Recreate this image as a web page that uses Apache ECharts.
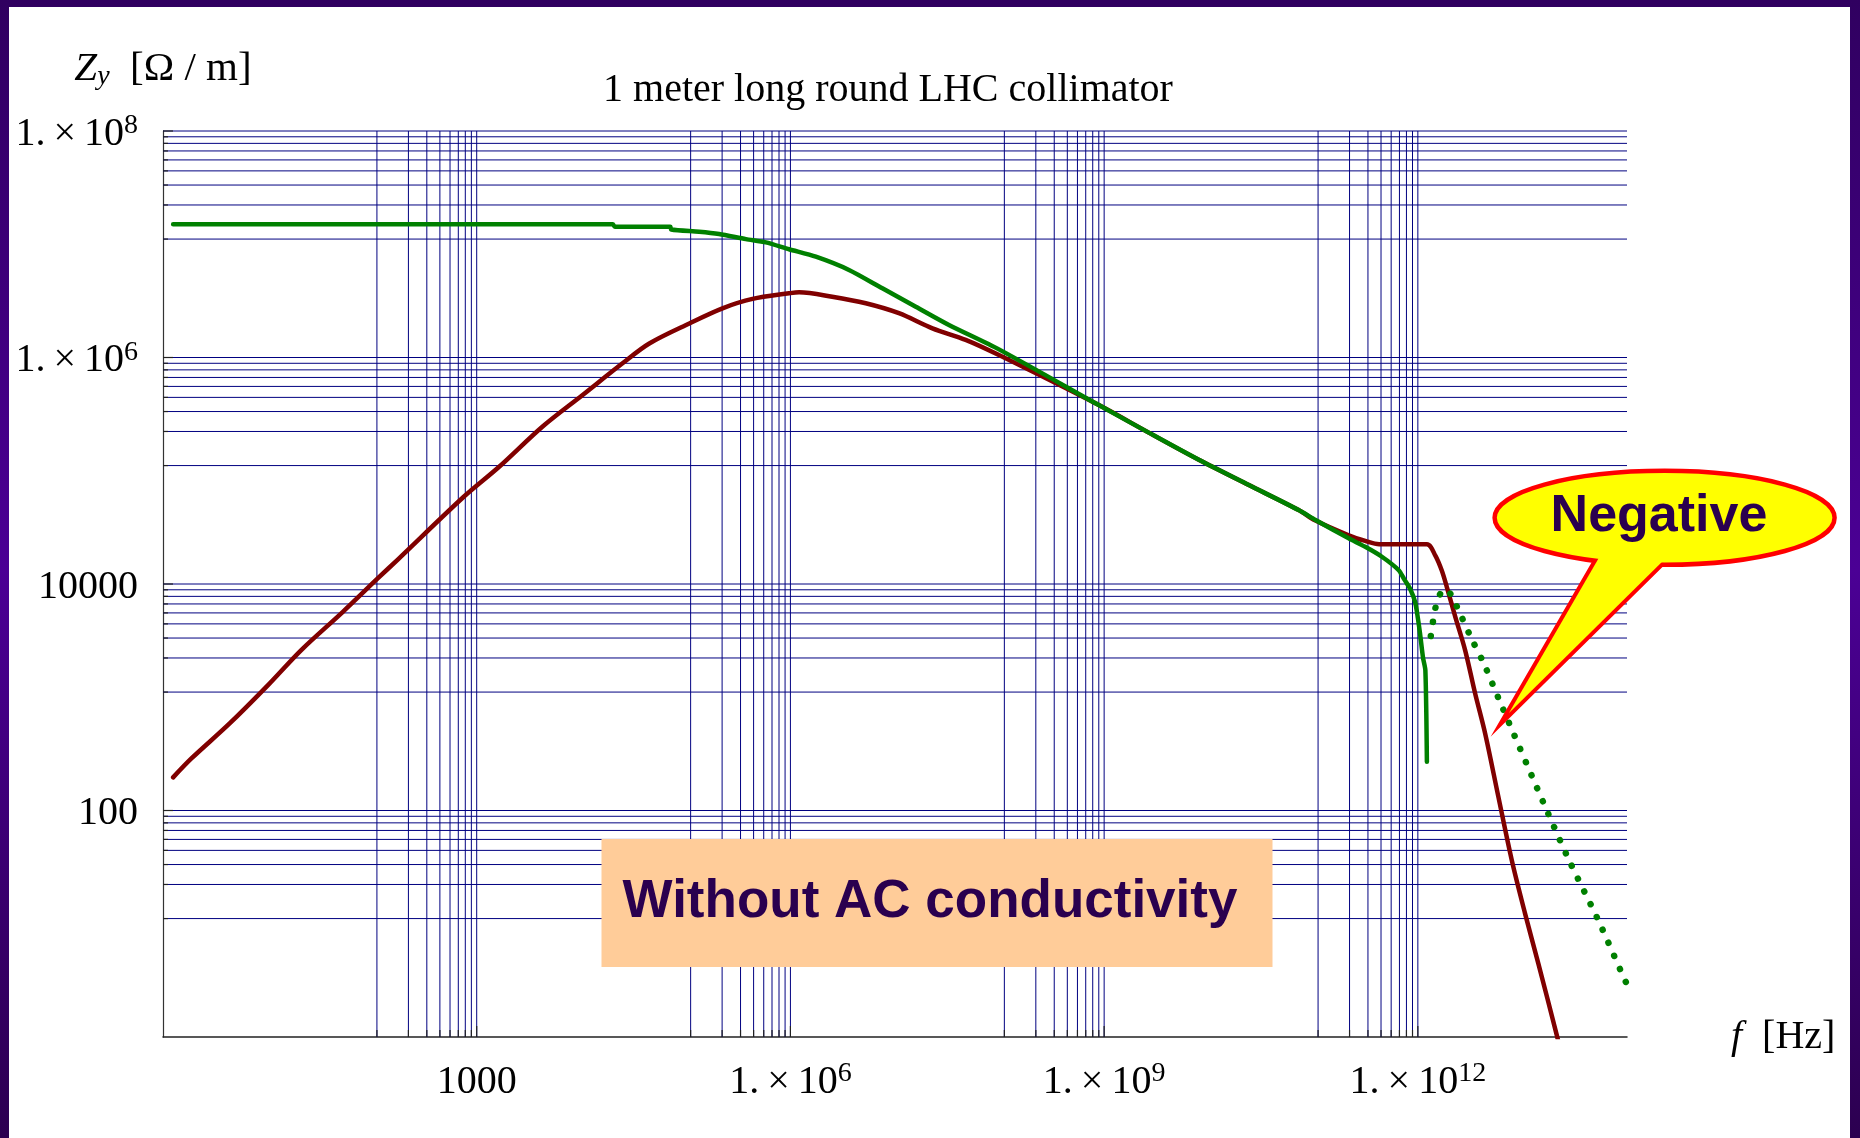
<!DOCTYPE html>
<html><head><meta charset="utf-8">
<script src="https://cdn.jsdelivr.net/npm/echarts@6/dist/echarts.min.js"></script>
<style>
html,body{margin:0;padding:0;width:1860px;height:1138px;overflow:hidden;}
body{background:linear-gradient(to bottom,#300060 0%,#4b0095 50%,#2c0050 100%);position:relative;}
#panel{position:absolute;left:9px;top:7px;width:1841px;height:1131px;background:#fff;}
#chart{position:absolute;left:0;top:0;width:1860px;height:1138px;}
</style></head><body>
<div id="panel"></div><div id="chart"></div>
<script>
// ---- tick structure ----
const xTickValues = [1e3, 1e6, 1e9, 1e12];
const xTickLabels = ['1000', '1.×10^6', '1.×10^9', '1.×10^12'];
const yTickValues = [1e2, 1e4, 1e6, 1e8];
const yTickLabels = ['100', '10000', '1.×10^6', '1.×10^8'];
const gridFractions = [1/9, 2/9, 3/9, 4/9, 5/9, 6/9, 7/9, 8/9, 9/9];
const xRange = [1, 1e14];
const yRange = [1, 1e8];

// ---- data (f in Hz, Z in Ohm/m) ----
const freqRed = [1.25, 1.87, 4.34, 10.1, 21.0, 52.5, 113, 178, 752, 1650, 4270, 1.03e4, 2.48e4, 4.47e4,
  1.08e5, 2.24e5, 4.34e5, 9.70e5, 1.21e6, 2.51e6, 5.25e6, 1.09e7, 2.28e7, 4.74e7, 9.86e7,
  8.89e8, 2.67e9, 8.04e9, 2.42e10, 7.24e10, 1.05e11, 2.18e11, 3.14e11, 4.27e11,
  1.22e12, 1.47e12, 1.69e12, 1.89e12, 2.28e12, 2.83e12, 3.53e12, 4.40e12, 5.89e12, 7.91e12,
  1.06e13, 1.42e13, 2.13e13, 2.29e13];
const zRed = [196, 288, 587, 1280, 2610, 5680, 1.12e4, 1.66e4, 5.89e4, 1.09e5, 2.46e5, 4.67e5, 8.89e5, 1.33e6,
  2.00e6, 2.72e6, 3.29e6, 3.69e6, 3.77e6, 3.44e6, 3.01e6, 2.46e6, 1.81e6, 1.43e6, 1.05e6,
  3.80e5, 2.17e5, 1.25e5, 7.48e4, 4.50e4, 3.63e4, 2.69e4, 2.40e4, 2.24e4,
  2.24e4, 1.78e4, 1.32e4, 9440, 5130, 2610, 1080, 479, 132, 36.4,
  12.3, 4.45, 1.04, 0.79];

const freqGreen = [1.25, 2.00e4, 2.09e4, 7.08e4, 7.24e4, 1.34e5, 2.08e5, 3.75e5, 5.82e5, 9.70e5,
  1.75e6, 3.63e6, 7.57e6, 1.58e7, 3.28e7, 9.86e7, 8.89e8, 2.67e9, 8.04e9, 2.42e10,
  7.24e10, 1.05e11, 2.18e11, 3.14e11, 4.53e11, 6.53e11, 7.41e11, 8.51e11, 9.42e11, 1.00e12,
  1.05e12, 1.12e12, 1.18e12, 1.22e12];
const zGreen = [1.50e7, 1.50e7, 1.43e7, 1.43e7, 1.35e7, 1.29e7, 1.23e7, 1.11e7, 1.04e7, 9.04e6,
  7.76e6, 5.93e6, 4.08e6, 2.81e6, 1.94e6, 1.18e6, 3.80e5, 2.17e5, 1.25e5, 7.48e4,
  4.50e4, 3.67e4, 2.53e4, 2.13e4, 1.74e4, 1.33e4, 1.10e4, 8910, 6920, 5010,
  3630, 2240, 1730, 269];

const freqNeg = [1.33e12, 1.49e12, 1.66e12, 1.85e12, 2.08e12, 2.59e12, 3.24e12, 4.27e12, 5.97e12,
  1.63e13, 2.81e13, 5.25e13, 9.02e13, 1.0e14];
const zNeg = [3480, 6470, 8360, 8950, 7980, 5240, 3330, 1990, 955, 111, 35.9, 11.0, 3.58, 2.91];

// ---- helpers ----
const zip = (a, b) => a.map((v, i) => [v, b[i]]);
const GRID_COLOR = '#000080';
const SERIF = '"Liberation Serif", "Times New Roman", serif';
const SANS = '"Liberation Sans", Arial, sans-serif';
const TEXT_DARK = '#2a004f';

function richLabel(s) {
  const parts = s.split('^');
  const main = parts[0].replace('1.×10', '1.\u2009×\u200910');
  return parts.length > 1 ? '{m|' + main + '}{s|' + parts[1] + '}' : '{m|' + main + '}';
}
function labelFor(values, labels) {
  return function (v) {
    const e = Math.round(Math.log10(v));
    for (let i = 0; i < values.length; i++) {
      if (Math.round(Math.log10(values[i])) === e) return richLabel(labels[i]);
    }
    return '';
  };
}
const labelRich = {
  m: { fontFamily: SERIF, fontSize: 40, lineHeight: 44, color: '#000' },
  s: { fontFamily: SERIF, fontSize: 28, lineHeight: 24, verticalAlign: 'top', color: '#000' }
};
function isMajor(v, majors) { return majors.some(M => Math.abs(v / M - 1) < 1e-9); }

const xGrid = [], yGrid = [];
xTickValues.forEach(M => gridFractions.forEach(k => xGrid.push([M * k, yRange[0]])));
yTickValues.forEach(M => gridFractions.forEach(k => yGrid.push([xRange[0], M * k])));

const chart = echarts.init(document.getElementById('chart'), null, { renderer: 'canvas' });
chart.setOption({
  animation: false,
  backgroundColor: 'transparent',
  title: {
    text: '1 meter long round LHC collimator',
    left: 888, top: 69, textAlign: 'center', padding: 0,
    textStyle: { fontFamily: SERIF, fontSize: 40, fontWeight: 'normal', color: '#000', lineHeight: 42 }
  },
  grid: { left: 163, top: 131, width: 1464, height: 906, containLabel: false, outerBoundsMode: 'none' },
  xAxis: {
    type: 'log', logBase: 10, min: xRange[0], max: xRange[1], interval: 3,
    name: '{i|f}{n|  [Hz]}', nameLocation: 'end', nameGap: 104,
    nameTextStyle: { rich: {
      i: { fontFamily: SERIF, fontStyle: 'italic', fontSize: 40, lineHeight: 44, color: '#000' },
      n: { fontFamily: SERIF, fontSize: 40, lineHeight: 44, color: '#000' } } },
    axisLine: { show: true, lineStyle: { color: '#222', width: 1.5 } },
    axisTick: { show: false }, splitLine: { show: false }, minorTick: { show: false },
    axisLabel: { margin: 23, formatter: labelFor(xTickValues, xTickLabels), rich: labelRich, color: '#000' }
  },
  yAxis: {
    type: 'log', logBase: 10, min: yRange[0], max: yRange[1], interval: 2,
    name: '{z|Z}{s|y}{n|  [Ω / m]}', nameLocation: 'end', nameGap: 40,
    nameTextStyle: { rich: {
      z: { fontFamily: SERIF, fontStyle: 'italic', fontSize: 41, lineHeight: 44, color: '#000' },
      s: { fontFamily: SERIF, fontStyle: 'italic', fontSize: 28, lineHeight: 28, verticalAlign: 'bottom', color: '#000' },
      n: { fontFamily: SERIF, fontSize: 41, lineHeight: 44, color: '#000' } } },
    axisLine: { show: true, lineStyle: { color: '#333', width: 1.2 } },
    axisTick: { show: false }, splitLine: { show: false }, minorTick: { show: false },
    axisLabel: { margin: 25, padding: [6, 0, 0, 0], formatter: labelFor(yTickValues, yTickLabels), rich: labelRich, color: '#000' }
  },
  series: [
    {
      type: 'custom', z: 1, clip: false, silent: true, encode: { x: 0, y: 1 }, data: xGrid,
      renderItem: function (params, api) {
        const v = api.value(0);
        const a = api.coord([v, yRange[0]]), b = api.coord([v, yRange[1]]);
        const len = isMajor(v, xTickValues) ? 11 : 7;
        return { type: 'group', children: [
          { type: 'line', shape: { x1: a[0], y1: a[1], x2: b[0], y2: b[1] }, style: { stroke: GRID_COLOR, lineWidth: 1 } },
          { type: 'line', shape: { x1: a[0], y1: a[1], x2: a[0], y2: a[1] - len }, style: { stroke: '#222', lineWidth: 1.2 } }
        ] };
      }
    },
    {
      type: 'custom', z: 1, clip: false, silent: true, encode: { x: 0, y: 1 }, data: yGrid,
      renderItem: function (params, api) {
        const v = api.value(1);
        const a = api.coord([xRange[0], v]), b = api.coord([xRange[1], v]);
        const len = isMajor(v, yTickValues) ? 10 : 5;
        return { type: 'group', children: [
          { type: 'line', shape: { x1: a[0], y1: a[1], x2: b[0], y2: b[1] }, style: { stroke: GRID_COLOR, lineWidth: 1 } },
          { type: 'line', shape: { x1: a[0], y1: a[1], x2: a[0] + len, y2: a[1] }, style: { stroke: '#222', lineWidth: 1.2 } }
        ] };
      }
    },
    {
      name: 'Red', type: 'line', z: 3, showSymbol: false, symbol: 'none', clip: true, smooth: 0.32,
      data: zip(freqRed, zRed),
      lineStyle: { color: '#800000', width: 4.5, cap: 'round', join: 'round' }
    },
    {
      name: 'Green', type: 'line', z: 3, showSymbol: false, symbol: 'none', clip: true, smooth: 0.25,
      data: zip(freqGreen, zGreen),
      lineStyle: { color: '#008000', width: 4.5, cap: 'round', join: 'round' }
    },
    {
      name: 'Green negative', type: 'line', z: 3, showSymbol: false, symbol: 'none', clip: true, smooth: 0.3,
      data: zip(freqNeg, zNeg),
      lineStyle: { color: '#008000', width: 6.5, type: [0.1, 14.1], cap: 'round', join: 'round' }
    }
  ],
  graphic: [
    { type: 'rect', z: 100, shape: { x: 601.5, y: 839, width: 671, height: 128 }, style: { fill: '#FFCC99' } },
    { type: 'text', z: 101, x: 930, y: 902, style: { text: 'Without AC conductivity', fontFamily: SANS, fontWeight: 'bold', fontSize: 53, fill: TEXT_DARK, align: 'center', verticalAlign: 'middle' } },
    { type: 'polygon', z: 100, shape: { points: [[1604, 549], [1509, 713], [1671, 553]] }, style: { fill: '#FFFF00', stroke: '#FF0000', lineWidth: 8 } },
    { type: 'ellipse', z: 101, shape: { cx: 1664.6, cy: 517.8, rx: 170, ry: 47 }, style: { fill: '#FFFF00', stroke: '#FF0000', lineWidth: 4.5 } },
    { type: 'polygon', z: 102, shape: { points: [[1604, 549], [1509, 713], [1671, 553]] }, style: { fill: '#FFFF00' } },
    { type: 'text', z: 103, x: 1659, y: 517, style: { text: 'Negative', fontFamily: SANS, fontWeight: 'bold', fontSize: 52, fill: TEXT_DARK, align: 'center', verticalAlign: 'middle' } }
  ]
});
</script>
</body></html>
